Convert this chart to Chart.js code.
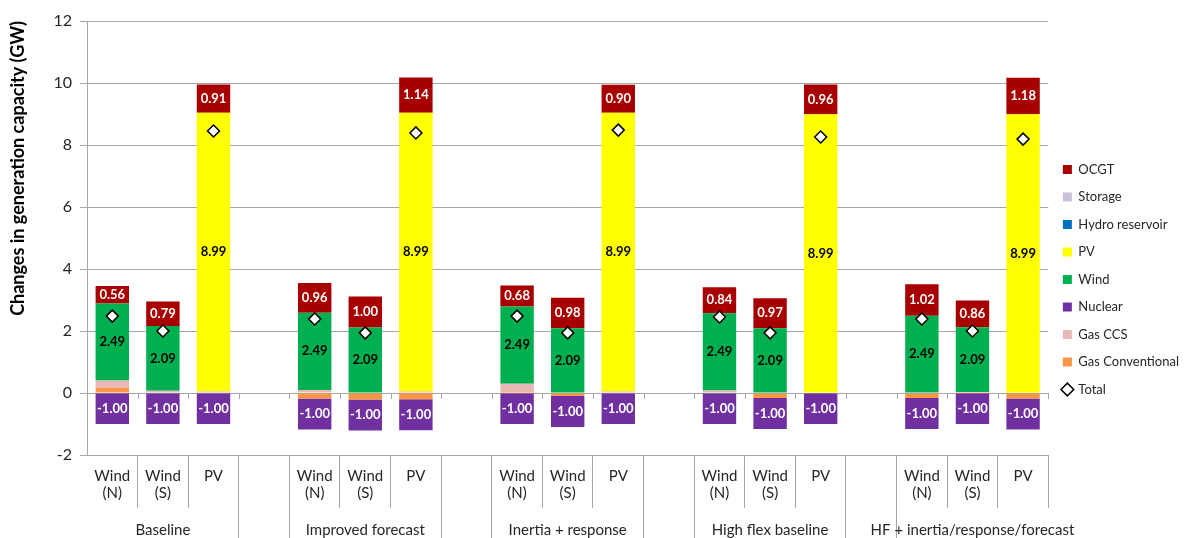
<!DOCTYPE html>
<html>
<head>
<meta charset="utf-8">
<script src="https://cdn.jsdelivr.net/npm/chart.js@4"></script>
<style>
  html, body { margin: 0; padding: 0; background: #fff; }
  #wrap { width: 1189px; height: 538px; position: relative; }
</style>
</head>
<body>
<div id="wrap"><canvas id="capChart"></canvas></div>
<script>
// categories: 5 scenarios x (Wind N, Wind S, PV) with an empty slot between scenarios
const barLabels = [
  ["Wind", "(N)"], ["Wind", "(S)"], "PV", "",
  ["Wind", "(N)"], ["Wind", "(S)"], "PV", "",
  ["Wind", "(N)"], ["Wind", "(S)"], "PV", "",
  ["Wind", "(N)"], ["Wind", "(S)"], "PV", "",
  ["Wind", "(N)"], ["Wind", "(S)"], "PV"
];
const groupLabels = [
  "", "Baseline", "", "",
  "", "Improved forecast", "", "",
  "", "Inertia + response", "", "",
  "", "High flex baseline", "", "",
  "", "HF + inertia/response/forecast", ""
];
// category boundaries that run through the scenario row
const groupEdges = [3, 4, 7, 8, 11, 12, 15, 16];

const gasConv = [0.17, 0, 0, null, -0.18, -0.21, -0.2, null, 0.05, -0.1, 0, null, 0, -0.16, 0, null, -0.16, 0.03, -0.18];
const gasCCS  = [0.23, 0.07, 0.05, null, 0.1, 0.02, 0.05, null, 0.25, 0, 0.05, null, 0.08, 0, 0, null, 0, 0, 0];
const nuclear = [-1, -1, -1, null, -1, -1, -1, null, -1, -1, -1, null, -1, -1, -1, null, -1, -1, -1];
const wind    = [2.49, 2.09, null, null, 2.49, 2.09, null, null, 2.49, 2.09, null, null, 2.49, 2.09, null, null, 2.49, 2.09, null];
const pv      = [null, null, 8.99, null, null, null, 8.99, null, null, null, 8.99, null, null, null, 8.99, null, null, null, 8.99];
const hydro   = [0, 0, 0, null, 0, 0, 0, null, 0, 0, 0, null, 0, 0, 0, null, 0, 0, 0];
const storage = [0, 0, 0, null, 0, 0, 0, null, 0, 0, 0, null, 0, 0, 0, null, 0, 0, 0];
const ocgt    = [0.56, 0.79, 0.91, null, 0.96, 1.00, 1.14, null, 0.68, 0.98, 0.90, null, 0.84, 0.97, 0.96, null, 1.02, 0.86, 1.18];
const total   = [2.48, 2.0, 8.45, null, 2.39, 1.94, 8.39, null, 2.48, 1.94, 8.48, null, 2.45, 1.94, 8.26, null, 2.39, 2.0, 8.19];

const gridGray = "#a6a6a6";
const textColor = "#262626";
const fontFamily = "Lato, 'Open Sans', sans-serif";

// value labels inside the bar segments
const segmentLabels = {
  id: "segmentLabels",
  afterDatasetsDraw(chart) {
    const ctx = chart.ctx;
    chart.data.datasets.forEach((ds, i) => {
      if (!ds.labelColor) return;
      const meta = chart.getDatasetMeta(i);
      meta.data.forEach((bar, j) => {
        const v = ds.data[j];
        if (v === null || v === 0) return;
        const { x, y, base } = bar.getProps(["x", "y", "base"], true);
        ctx.save();
        ctx.font = "bold 13px " + fontFamily;
        ctx.fillStyle = ds.labelColor;
        ctx.textAlign = "center";
        ctx.textBaseline = "middle";
        ctx.fillText(v.toFixed(2), x, (y + base) / 2);
        ctx.restore();
      });
    });
  }
};

// small tick marks on the zero line between categories
const zeroTicks = {
  id: "zeroTicks",
  afterDraw(chart) {
    const xs = chart.scales.x, ys = chart.scales.y;
    const ctx = chart.ctx;
    const y0 = ys.getPixelForValue(0);
    const half = (xs.getPixelForValue(1) - xs.getPixelForValue(0)) / 2;
    ctx.save();
    ctx.strokeStyle = gridGray;
    ctx.lineWidth = 1;
    for (let i = 1; i <= barLabels.length; i++) {
      const x = Math.round(xs.getPixelForValue(i - 1) + half) + 0.5;
      ctx.beginPath();
      ctx.moveTo(x, y0);
      ctx.lineTo(x, y0 + 6);
      ctx.stroke();
    }
    ctx.restore();
  }
};

function barSet(label, data, color, labelColor) {
  return {
    label,
    data,
    backgroundColor: color,
    borderWidth: 0,
    pointStyle: "rect",
    labelColor
  };
}

new Chart(document.getElementById("capChart"), {
  type: "bar",
  data: {
    labels: barLabels,
    datasets: [
      {
        type: "line",
        label: "Total",
        data: total,
        stack: "total",
        order: -1,
        showLine: false,
        pointStyle: "rectRot",
        pointRadius: 6,
        pointBackgroundColor: "#fff",
        pointBorderColor: "#000",
        pointBorderWidth: 1.5,
        backgroundColor: "#fff",
        borderColor: "#000",
        borderWidth: 1.5
      },
      barSet("Gas Conventional", gasConv, "#F79646"),
      barSet("Gas CCS", gasCCS, "#E6B9B8"),
      barSet("Nuclear", nuclear, "#7030A0", "#fff"),
      barSet("Wind", wind, "#00B050", "#000"),
      barSet("PV", pv, "#FFFF00", "#000"),
      barSet("Hydro reservoir", hydro, "#0070C0"),
      barSet("Storage", storage, "#CCC1DA"),
      barSet("OCGT", ocgt, "#A80000", "#fff")
    ]
  },
  options: {
    responsive: true,
    maintainAspectRatio: false,
    animation: false,
    layout: { padding: { top: 21, right: 0, bottom: 0, left: 0 } },
    datasets: {
      bar: { categoryPercentage: 1, barPercentage: 0.66 }
    },
    plugins: {
      tooltip: { enabled: false },
      legend: {
        position: "right",
        reverse: true,
        labels: {
          usePointStyle: true,
          boxWidth: 9,
          boxHeight: 9,
          padding: 14.5,
          color: textColor,
          font: { family: fontFamily, size: 13 }
        }
      }
    },
    scales: {
      x: {
        stacked: true,
        offset: true,
        grid: {
          offset: true,
          drawOnChartArea: false,
          drawTicks: true,
          tickLength: 53,
          color: c => (c.index === 0 ? "transparent" : gridGray)
        },
        border: { color: gridGray },
        ticks: {
          autoSkip: false,
          maxRotation: 0,
          padding: -40,
          color: textColor,
          font: { family: fontFamily, size: 15, lineHeight: 1.1 }
        },
        afterFit: s => { s.height = 53; }
      },
      x2: {
        type: "category",
        position: "bottom",
        labels: groupLabels,
        offset: true,
        grid: {
          offset: true,
          drawOnChartArea: false,
          drawTicks: true,
          tickLength: 30,
          color: c => (groupEdges.includes(c.index) ? gridGray : "transparent")
        },
        border: { display: false },
        ticks: {
          autoSkip: false,
          maxRotation: 0,
          padding: -16,
          color: textColor,
          font: { family: fontFamily, size: 15, lineHeight: 1.1 }
        },
        afterFit: s => { s.height = 30; }
      },
      y: {
        stacked: true,
        min: -2,
        max: 12,
        grid: { color: gridGray, tickLength: 7 },
        border: { color: gridGray },
        ticks: {
          stepSize: 2,
          padding: 8,
          color: textColor,
          font: { family: fontFamily, size: 16 }
        },
        title: {
          display: true,
          text: "Changes in generation capacity (GW)",
          align: "end",
          color: "#000",
          padding: { top: 7, bottom: 0 },
          font: { family: fontFamily, size: 18, weight: "bold" }
        },
        afterFit: s => { s.width = 87; }
      }
    }
  },
  plugins: [segmentLabels, zeroTicks]
});
</script>
</body>
</html>
